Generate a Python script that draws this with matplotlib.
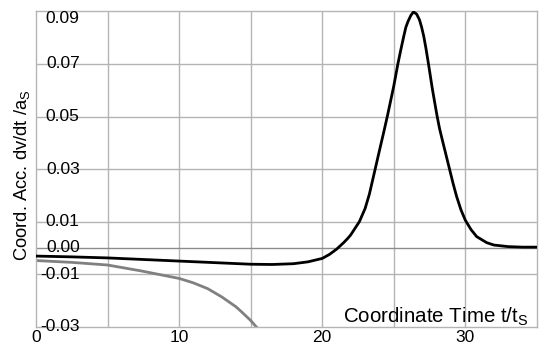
import matplotlib
matplotlib.use("Agg")
import matplotlib.pyplot as plt

plt.rcParams["font.family"] = ["Liberation Sans", "DejaVu Sans"]
plt.rcParams["mathtext.fontset"] = "custom"
plt.rcParams["mathtext.rm"] = "Liberation Sans"

# --- values ---
t_black = [0, 2.5, 5, 7.5, 10, 12.5, 15, 16.5, 18, 19, 20, 20.5, 21, 21.5,
           21.8, 22, 22.3, 22.6, 23, 23.3, 23.64, 24, 24.3, 24.57, 25, 25.29,
           25.5, 25.7, 25.85, 26, 26.2, 26.38, 26.6, 26.8, 26.95, 27.1, 27.25,
           27.43, 27.7, 28.02, 28.2, 28.4, 28.65, 28.9, 29.15, 29.4, 29.7, 30,
           30.4, 30.8, 31.5, 32, 33, 34, 35]
acc_black = [-0.0031, -0.0034, -0.0038, -0.0044, -0.0050, -0.0056, -0.0062,
             -0.0063, -0.0060, -0.0053, -0.0040, -0.0025, -0.0005, 0.0020,
             0.0037, 0.0050, 0.0075, 0.0100, 0.0150, 0.0205, 0.0285, 0.0370,
             0.0440, 0.0505, 0.0615, 0.0700, 0.0755, 0.0805, 0.0840, 0.0862,
             0.0885, 0.0898, 0.0890, 0.0868, 0.0840, 0.0805, 0.0760, 0.0700,
             0.0605, 0.0505, 0.0455, 0.0410, 0.0355, 0.0300, 0.0245, 0.0195,
             0.0145, 0.0106, 0.0070, 0.0043, 0.0020, 0.0011, 0.0005, 0.0003,
             0.0003]

t_gray = [0, 2.5, 5, 7.3, 10, 11, 12, 13, 14, 14.5, 15, 15.6]
acc_gray = [-0.0048, -0.0055, -0.0065, -0.0087, -0.0116, -0.0133, -0.0155,
            -0.0187, -0.0225, -0.0250, -0.0276, -0.0313]

y_ticks = [-0.03, -0.01, 0.00, 0.01, 0.03, 0.05, 0.07, 0.09]
y_labels = ["-0.03", "-0.01", "0.00", "0.01", "0.03", "0.05", "0.07", "0.09"]
x_ticks = [0, 10, 20, 30]
x_grid = [5, 10, 15, 20, 25, 30]

fig = plt.figure(figsize=(5.5, 3.48), dpi=100)
ax = fig.add_axes([0.0655, 0.061, 0.9105, 0.907])

ax.set_xlim(0, 35)
ax.set_ylim(-0.03, 0.0901)

# grid
for x in x_grid:
    ax.axvline(x, color="#b4b4b4", lw=1.0, zorder=0)
for y in y_ticks[1:-1]:
    col = "#8c8c8c" if y == 0 else "#b4b4b4"
    ax.axhline(y, color=col, lw=1.0, zorder=0)

for s in ax.spines.values():
    s.set_color("#b4b4b4")
    s.set_linewidth(1.0)

ax.plot(t_gray, acc_gray, color="#808080", lw=2.0, zorder=2)
ax.plot(t_black, acc_black, color="black", lw=2.0, zorder=3,
        solid_joinstyle="round")

ax.set_xticks([])
ax.set_yticks([])

# y tick labels drawn inside the plot
for y, lab in zip(y_ticks, y_labels):
    va = "center"
    if y == 0.09:
        va = "top"
    ax.text(3.05, y, lab, ha="right", va=va, fontsize=12.5, zorder=4)

for x in x_ticks:
    ax.text(x, -0.0312, str(x), ha="center", va="top", fontsize=12.5,
            clip_on=False)

ax.text(34.4, -0.0262, "Coordinate Time t/t$_\\mathrm{S}$", ha="right",
        va="center", fontsize=14.8)
fig.text(0.04, 0.497, "Coord. Acc. dv/dt /a$_\\mathrm{S}$", rotation=90,
         ha="center", va="center", fontsize=13.2)

fig.savefig("out.png", dpi=100)
